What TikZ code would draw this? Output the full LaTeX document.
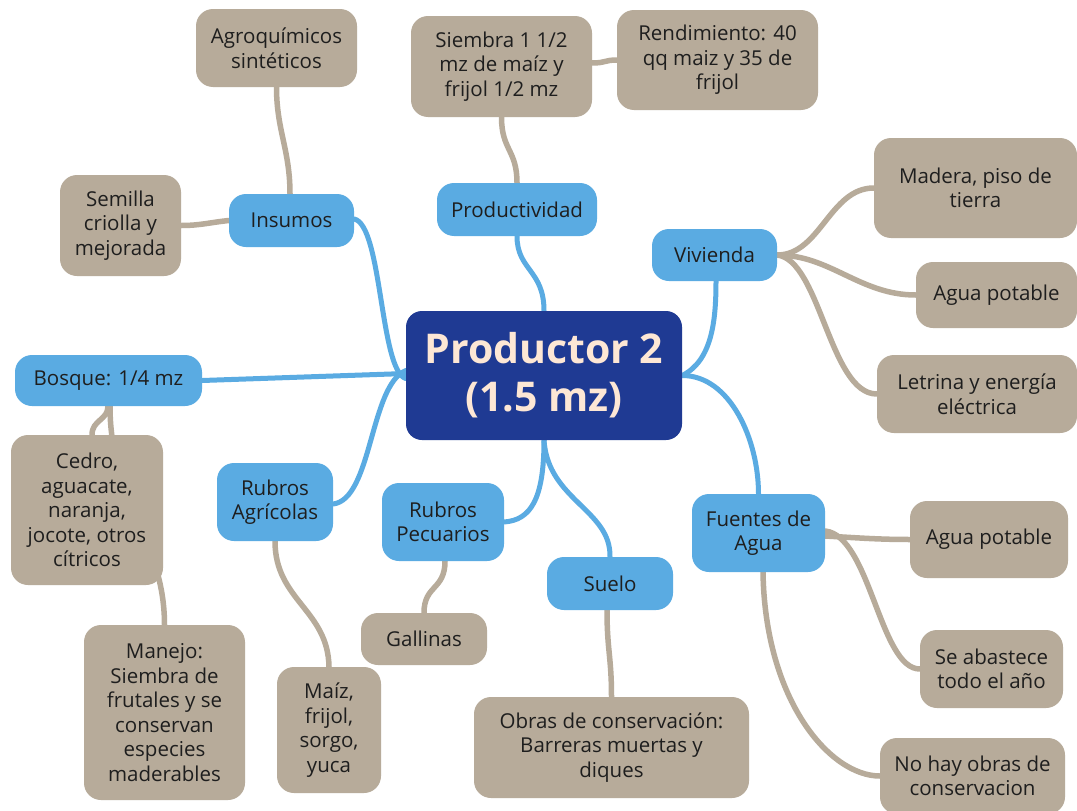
\documentclass[tikz,border=0pt]{standalone}
\usepackage{fontspec}
\setmainfont{Open Sans}
\definecolor{topicblue}{HTML}{5AABE2}
\definecolor{leafbrown}{HTML}{B7AB9A}
\definecolor{corenavy}{HTML}{1F3A93}
\definecolor{corecream}{HTML}{FDE7D5}
\definecolor{inktext}{HTML}{1E1E1E}
\pgfdeclarelayer{paper}
\pgfdeclarelayer{links}
\pgfsetlayers{paper,links,main}
\begin{document}
\begin{tikzpicture}[x=1pt,y=-1pt,
  box/.style={rectangle, rounded corners=17pt, inner sep=0pt, align=center,
    text=inktext, font=\fontsize{20.5}{24.5}\selectfont},
  core/.style={rectangle, rounded corners=16pt, inner sep=0pt, align=center,
    fill=corenavy, text=corecream, font=\fontsize{41}{48}\selectfont\bfseries},
  topic/.style={box, fill=topicblue},
  leaf/.style={box, fill=leafbrown},
  bluelink/.style={draw=topicblue, line width=5pt, line cap=round},
  brownlink/.style={draw=leafbrown, line width=5.5pt, line cap=round}]
\useasboundingbox (0,0) rectangle (1077,811);
\begin{pgfonlayer}{paper}
\fill[white] (0,0) rectangle (1077,811);
\end{pgfonlayer}

% central topic
\node[core, minimum width=276pt, minimum height=129pt] (c) at (544,375.5) {Productor 2\\(1.5 mz)};

% main branches
\node[topic, minimum width=125pt, minimum height=53pt] (ins)  at (291.5,220.5) {Insumos};
\node[topic, minimum width=160pt, minimum height=53pt] (prod) at (517,209.5) {Productividad};
\node[topic, minimum width=125pt, minimum height=52pt] (viv)  at (714.5,255) {Vivienda};
\node[topic, minimum width=187pt, minimum height=51pt] (bos)  at (108.5,380.5) {Bosque: 1/4 mz};
\node[topic, minimum width=116pt, minimum height=78pt] (ragr) at (275,502) {Rubros\\Agrícolas};
\node[topic, minimum width=122pt, minimum height=78pt] (rpec) at (443,522) {Rubros\\Pecuarios};
\node[topic, minimum width=126pt, minimum height=53pt] (sue)  at (610,583.5) {Suelo};
\node[topic, minimum width=133pt, minimum height=78pt] (fue)  at (758.5,533) {Fuentes de\\Agua};

% details
\node[leaf, minimum width=161pt, minimum height=78pt]  (agro)  at (276.5,48) {Agroquímicos\\sintéticos};
\node[leaf, minimum width=121pt, minimum height=101pt] (sem)   at (120.5,225.5) {Semilla\\criolla y\\mejorada};
\node[leaf, minimum width=181pt, minimum height=101pt] (siem)  at (501.5,66.5) {Siembra 1 1/2\\mz de maíz y\\frijol 1/2 mz};
\node[leaf, minimum width=201pt, minimum height=100pt] (rend)  at (717.5,60) {Rendimiento: 40\\qq maiz y 35 de\\frijol};
\node[leaf, minimum width=203pt, minimum height=100pt] (mad)   at (975.5,188) {Madera, piso de\\tierra};
\node[leaf, minimum width=161pt, minimum height=66pt]  (aguav) at (996.5,295) {Agua potable};
\node[leaf, minimum width=200pt, minimum height=78pt]  (letr)  at (977,394) {Letrina y energía\\eléctrica};
\node[leaf, minimum width=152pt, minimum height=150pt] (cedro) at (87,510) {Cedro,\\aguacate,\\naranja,\\jocote, otros\\cítricos};
\node[leaf, minimum width=161pt, minimum height=175pt] (man)   at (164.5,712.5) {Manejo:\\Siembra de\\frutales y se\\conservan\\especies\\maderables};
\node[leaf, minimum width=104pt, minimum height=126pt] (maiz)  at (329,730) {Maíz,\\frijol,\\sorgo,\\yuca};
\node[leaf, minimum width=126pt, minimum height=52pt]  (gall)  at (424,639) {Gallinas};
\node[leaf, minimum width=275pt, minimum height=101pt] (obras) at (611.5,747.5) {Obras de conservación:\\Barreras muertas y\\diques};
\node[leaf, minimum width=158pt, minimum height=77pt]  (aguaf) at (989,539.5) {Agua potable};
\node[leaf, minimum width=143pt, minimum height=78pt]  (abast) at (991.5,669) {Se abastece\\todo el año};
\node[leaf, minimum width=185pt, minimum height=76pt]  (nohay) at (972.5,776) {No hay obras de\\conservacion};

\begin{pgfonlayer}{links}
% central topic to main branches
\path[bluelink] ([yshift=-3pt]c.west) .. controls +(-26,-8) and +(28,6) .. ([yshift=1.5pt]ins.east);
\path[bluelink] ([yshift=2pt]c.west) -- (bos.east);
\path[bluelink] ([yshift=5pt]c.west) .. controls +(-36,15) and +(39,-5) .. ([yshift=-2pt]ragr.east);
\path[bluelink] (c.north) .. controls +(0,-41) and +(0,34) .. (prod.south);
\path[bluelink] (c.east) .. controls +(30,-15) and +(0,39) .. ([xshift=1.5pt]viv.south);
\path[bluelink] (c.east) .. controls +(48,0) and +(0,-54) .. (fue.north);
\path[bluelink] (c.south) .. controls +(0,60) and +(26,-2) .. (rpec.east);
\path[bluelink] (c.south) .. controls +(4,60) and +(1,-47) .. (sue.north);

% main branches to details
\path[brownlink] ([xshift=-1.5pt]ins.north) .. controls +(0,-44) and +(0,43) .. (agro.south);
\path[brownlink] (ins.west) .. controls +(-19,2) and +(19,0) .. (sem.east);
\path[brownlink] (prod.north) .. controls +(0,-33) and +(0,33) .. (siem.south);
\path[brownlink] ([yshift=3.5pt]siem.east) .. controls +(13,0) and +(-12,0) .. (rend.west);
\path[brownlink] (viv.east) .. controls +(43,0) and +(-44,0) .. (mad.west);
\path[brownlink] (viv.east) .. controls +(53,0) and +(-56,0) .. (aguav.west);
\path[brownlink] (viv.east) .. controls +(43,5) and +(-47,0) .. (letr.west);
\path[brownlink] ([xshift=-0.5pt]bos.south) .. controls +(0,14) and +(0,-15) .. ([xshift=5pt]cedro.north);
\path[brownlink] ([xshift=1.5pt]bos.south) .. controls +(0,94) and +(0,-85) .. (man.north);
\path[brownlink] (ragr.south) .. controls +(0,59) and +(-1,-57) .. (maiz.north);
\path[brownlink] ([xshift=2pt]rpec.south) .. controls +(0,29) and +(0,-28) .. (gall.north);
\path[brownlink] ([xshift=-3pt]sue.south) .. controls +(0,40) and +(0,-40) .. (obras.north);
\path[brownlink] ([yshift=-3pt]fue.east) .. controls +(35,2) and +(-30,0) .. (aguaf.west);
\path[brownlink] ([yshift=2pt]fue.east) .. controls +(45,5) and +(-40,0) .. (abast.west);
\path[brownlink] ([xshift=4.5pt]fue.south) .. controls +(2,128) and +(-50,0) .. (nohay.west);
\end{pgfonlayer}
\end{tikzpicture}
\end{document}
